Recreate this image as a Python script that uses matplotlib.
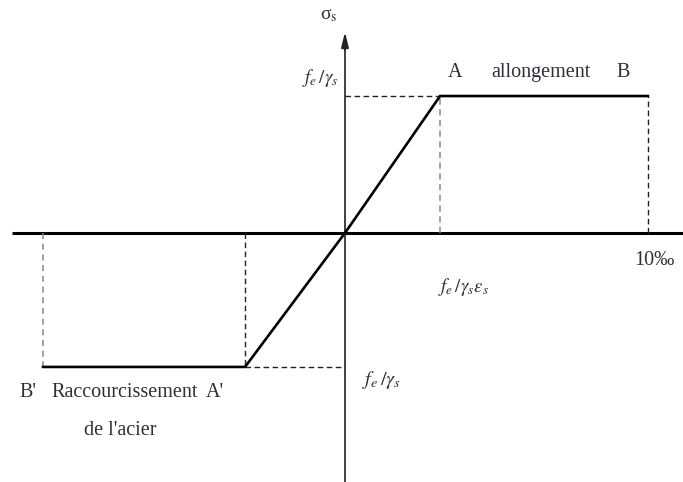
import matplotlib.pyplot as plt

plt.rcParams['font.family'] = 'Liberation Serif'
plt.rcParams['mathtext.fontset'] = 'stix'

# Diagramme contrainte-déformation de l'acier (schéma, déformation en ‰)
strain_tension = [0.0, 3.14, 10.0]
stress_tension = [0.0, 1.007, 1.007]
strain_comp = [0.0, -3.30, -9.97]
stress_comp = [0.0, -0.985, -0.985]

# Limites du repère
x_min, x_max = -11.39, 11.16
y_min, y_max = -1.831, 1.713
x_axis_start = -10.99
y_arrow_tip = 1.478

txt_color = '#2e2e3a'

fig = plt.figure(figsize=(6.83, 4.82), dpi=100)
ax = fig.add_axes([0, 0, 1, 1])
ax.set_xlim(x_min, x_max)
ax.set_ylim(y_min, y_max)
ax.axis('off')

# Axes
ax.plot([x_axis_start, x_max], [0, 0], color='black', lw=2.2, solid_capstyle='butt')
ax.plot([0, 0], [y_min, y_arrow_tip - 0.08], color='#333333', lw=1.3)
ax.annotate('', xy=(0, y_arrow_tip), xytext=(0, y_arrow_tip - 0.13),
            arrowprops=dict(arrowstyle='-|>,head_width=0.22,head_length=0.9',
                            color='#222222', lw=1.3, shrinkA=0, shrinkB=0))

# Lignes de rappel
dash = dict(color='#222222', lw=1.0, ls=(0, (4, 2.5)))
dash_light = dict(color='#888888', lw=1.1, ls=(0, (4, 3)))
ax.plot([0, strain_tension[1]], [stress_tension[1]] * 2, **dash)
ax.plot([strain_tension[1]] * 2, [0, stress_tension[1]], **dash_light)
ax.plot([strain_tension[2]] * 2, [0, stress_tension[2]], **dash)
ax.plot([strain_comp[1], 0], [stress_comp[1]] * 2, **dash)
ax.plot([strain_comp[1]] * 2, [0, stress_comp[1]], **dash)
ax.plot([strain_comp[2]] * 2, [0, stress_comp[2]], **dash_light)

# Courbe
ax.plot(strain_tension, stress_tension, color='black', lw=1.9, solid_joinstyle='miter')
ax.plot(strain_comp, stress_comp, color='black', lw=1.9, solid_joinstyle='miter')

# Textes
fs = 14.5
ax.text(-0.55, 1.60, r'σ$_\mathrm{s}$', fontsize=14, ha='center', va='center', color=txt_color)
ax.text(-0.20, 1.14, r'$f_e\,/\gamma_s$', fontsize=13.5, ha='right', va='center', color=txt_color)
ax.text(3.63, 1.18, 'A', fontsize=fs, ha='center', va='center', color=txt_color)
ax.text(6.47, 1.18, 'allongement', fontsize=fs, ha='center', va='center', color=txt_color)
ax.text(9.17, 1.18, 'B', fontsize=fs, ha='center', va='center', color=txt_color)
ax.text(10.23, -0.20, '10‰', fontsize=fs, ha='center', va='center', color=txt_color)
ax.text(3.07, -0.40, r'$f_e\,/\gamma_s\varepsilon_s$', fontsize=13.5, ha='left', va='center',
        color=txt_color)
ax.text(0.56, -1.08, r'$f_e\,/\gamma_s$', fontsize=14.5, ha='left', va='center', color=txt_color)
ax.text(-10.46, -1.17, "B'", fontsize=fs, ha='center', va='center', color=txt_color)
ax.text(-7.26, -1.17, 'Raccourcissement', fontsize=fs, ha='center', va='center', color=txt_color)
ax.text(-4.29, -1.17, "A'", fontsize=fs, ha='center', va='center', color=txt_color)
ax.text(-7.43, -1.45, "de l'acier", fontsize=fs, ha='center', va='center', color=txt_color)

fig.savefig('out.png', dpi=100)
